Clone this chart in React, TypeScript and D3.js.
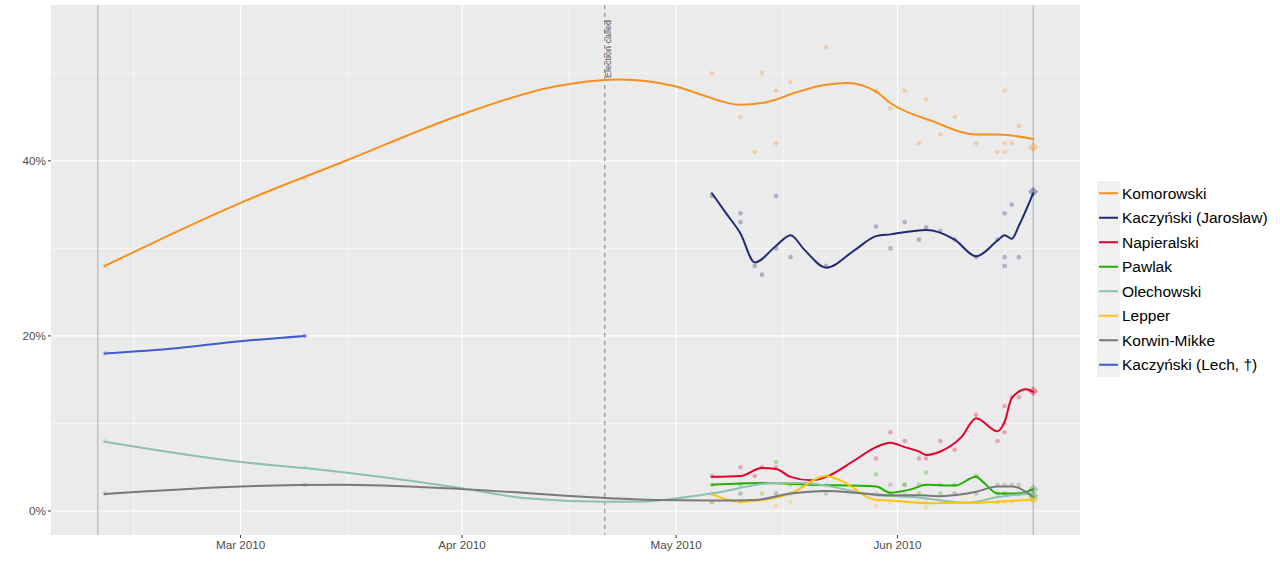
import { curveMonotoneX, line, scaleLinear, scaleTime, timeFormat, timeParse } from "d3";

const parse = timeParse("%Y-%m-%d");

type Obs = [string, number];

const candidates = [
  "Komorowski",
  "Kaczyński (Jarosław)",
  "Napieralski",
  "Pawlak",
  "Olechowski",
  "Lepper",
  "Korwin-Mikke",
  "Kaczyński (Lech, †)",
];

const colors = ["#f5901f", "#1f2c73", "#e3002b", "#22b000", "#8cc0b5", "#fec20f", "#7a7a7a", "#3c5ccf"];

// individual polls
const komorowskiPolls: Obs[] = [
  ["2010-02-10", 28], ["2010-03-10", 38], ["2010-05-06", 50], ["2010-05-10", 45], ["2010-05-12", 41],
  ["2010-05-13", 50], ["2010-05-15", 48], ["2010-05-15", 42], ["2010-05-17", 49], ["2010-05-22", 53],
  ["2010-05-29", 48], ["2010-05-31", 46], ["2010-06-02", 48], ["2010-06-04", 42], ["2010-06-05", 47],
  ["2010-06-07", 43], ["2010-06-09", 45], ["2010-06-12", 42], ["2010-06-15", 41], ["2010-06-16", 48],
  ["2010-06-16", 41], ["2010-06-16", 42], ["2010-06-17", 42], ["2010-06-18", 44],
];
const jaroslawPolls: Obs[] = [
  ["2010-05-06", 36], ["2010-05-10", 34], ["2010-05-10", 33], ["2010-05-12", 28], ["2010-05-13", 27],
  ["2010-05-15", 36], ["2010-05-15", 30], ["2010-05-17", 29], ["2010-05-22", 28], ["2010-05-29", 32.5],
  ["2010-05-31", 30], ["2010-06-02", 33], ["2010-06-04", 31], ["2010-06-05", 32.4], ["2010-06-07", 32],
  ["2010-06-09", 31], ["2010-06-12", 29], ["2010-06-15", 31], ["2010-06-16", 34], ["2010-06-16", 29],
  ["2010-06-16", 28], ["2010-06-17", 35], ["2010-06-18", 29],
];
const napieralskiPolls: Obs[] = [
  ["2010-05-06", 4], ["2010-05-10", 5], ["2010-05-12", 4], ["2010-05-13", 5], ["2010-05-15", 5],
  ["2010-05-29", 6], ["2010-05-31", 9], ["2010-06-02", 8], ["2010-06-04", 6], ["2010-06-05", 6],
  ["2010-06-07", 8], ["2010-06-09", 7], ["2010-06-12", 11], ["2010-06-15", 8], ["2010-06-16", 9],
  ["2010-06-16", 12], ["2010-06-16", 10], ["2010-06-17", 13], ["2010-06-18", 13],
];
const pawlakPolls: Obs[] = [
  ["2010-05-06", 3], ["2010-05-10", 3], ["2010-05-15", 5.6], ["2010-05-17", 3], ["2010-05-29", 4.2],
  ["2010-05-31", 2], ["2010-06-02", 3], ["2010-06-04", 2], ["2010-06-05", 4.4], ["2010-06-07", 2],
  ["2010-06-09", 3], ["2010-06-12", 4], ["2010-06-15", 2], ["2010-06-16", 2], ["2010-06-18", 2],
];
const olechowskiPolls: Obs[] = [
  ["2010-02-10", 8], ["2010-03-10", 5], ["2010-05-06", 2], ["2010-05-10", 2], ["2010-05-13", 2],
  ["2010-05-15", 2], ["2010-05-22", 3], ["2010-05-29", 2], ["2010-06-02", 2], ["2010-06-05", 1],
  ["2010-06-09", 2], ["2010-06-15", 1], ["2010-06-16", 2], ["2010-06-18", 2],
];
const lepperPolls: Obs[] = [
  ["2010-05-06", 1], ["2010-05-10", 1], ["2010-05-13", 2], ["2010-05-15", 0.6], ["2010-05-17", 1],
  ["2010-05-22", 4], ["2010-05-29", 0.6], ["2010-05-31", 1], ["2010-06-04", 1], ["2010-06-05", 0.4],
  ["2010-06-12", 1], ["2010-06-15", 1], ["2010-06-16", 1], ["2010-06-17", 1],
];
const korwinPolls: Obs[] = [
  ["2010-02-10", 2], ["2010-03-10", 3], ["2010-05-06", 1], ["2010-05-10", 2], ["2010-05-15", 2],
  ["2010-05-17", 2], ["2010-05-22", 2], ["2010-05-31", 3], ["2010-06-02", 3], ["2010-06-04", 3],
  ["2010-06-07", 3], ["2010-06-09", 2], ["2010-06-12", 2], ["2010-06-15", 3], ["2010-06-16", 3],
  ["2010-06-17", 3], ["2010-06-18", 3],
];
const lechPolls: Obs[] = [["2010-02-10", 18], ["2010-03-10", 20]];

// smoothed trend lines
const komorowskiTrend: Obs[] = [
  ["2010-02-10", 28], ["2010-03-01", 35.2], ["2010-03-16", 40.1],
  ["2010-04-01", 45.3], ["2010-04-14", 48.5], ["2010-04-23", 49.3], ["2010-05-01", 48.5],
  ["2010-05-04", 47.7], ["2010-05-10", 46.4], ["2010-05-13", 46.6], ["2010-05-15", 47], ["2010-05-17", 47.6],
  ["2010-05-22", 48.7], ["2010-05-25", 48.9], ["2010-05-29", 47.9], ["2010-05-31", 46.6], ["2010-06-06", 44.5],
  ["2010-06-12", 43], ["2010-06-15", 43], ["2010-06-20", 42.5],
];
const jaroslawTrend: Obs[] = [
  ["2010-05-06", 36.3], ["2010-05-08", 34], ["2010-05-10", 31.7], ["2010-05-12", 28.4], ["2010-05-15", 30.3],
  ["2010-05-17", 31.5], ["2010-05-19", 29.8], ["2010-05-22", 27.8], ["2010-05-26", 29.8], ["2010-05-29", 31.4],
  ["2010-05-31", 31.6], ["2010-06-05", 32.1], ["2010-06-09", 31], ["2010-06-12", 29.1], ["2010-06-15", 30.9],
  ["2010-06-16", 31.5], ["2010-06-17", 31.1], ["2010-06-18", 32.6], ["2010-06-20", 36.3],
];
const napieralskiTrend: Obs[] = [
  ["2010-05-06", 3.9], ["2010-05-10", 4.0], ["2010-05-13", 4.9], ["2010-05-15", 4.8], ["2010-05-17", 3.9],
  ["2010-05-20", 3.5], ["2010-05-22", 3.9], ["2010-05-26", 5.8], ["2010-05-29", 7.3], ["2010-05-31", 7.8],
  ["2010-06-02", 7.3], ["2010-06-04", 6.8], ["2010-06-05", 6.4], ["2010-06-07", 6.8], ["2010-06-10", 8.5],
  ["2010-06-12", 10.6], ["2010-06-15", 9.1], ["2010-06-16", 10.2], ["2010-06-17", 12.9], ["2010-06-19", 13.9],
  ["2010-06-20", 13.6],
];
const pawlakTrend: Obs[] = [
  ["2010-05-06", 3.0], ["2010-05-13", 3.2], ["2010-05-20", 3.0], ["2010-05-29", 2.8], ["2010-05-31", 2.1],
  ["2010-06-03", 2.5], ["2010-06-05", 3.0], ["2010-06-09", 2.9], ["2010-06-12", 3.9], ["2010-06-13", 3.3],
  ["2010-06-15", 2.0], ["2010-06-18", 2.0], ["2010-06-20", 2.5],
];
const olechowskiTrend: Obs[] = [
  ["2010-02-10", 7.9], ["2010-03-01", 5.6], ["2010-03-10", 4.9], ["2010-04-01", 2.6], ["2010-04-10", 1.45],
  ["2010-04-21", 1.06], ["2010-04-27", 1.1], ["2010-05-01", 1.45], ["2010-05-06", 2.0], ["2010-05-15", 3.2],
  ["2010-05-19", 3.2], ["2010-05-22", 2.9], ["2010-05-29", 1.8], ["2010-06-03", 1.6], ["2010-06-11", 0.95],
  ["2010-06-15", 1.6], ["2010-06-20", 2.0],
];
const lepperTrend: Obs[] = [
  ["2010-05-06", 1.9], ["2010-05-10", 1.06], ["2010-05-13", 1.26], ["2010-05-17", 2.0], ["2010-05-22", 4.0],
  ["2010-05-24", 3.5], ["2010-05-29", 1.26], ["2010-05-31", 1.2], ["2010-06-05", 0.9], ["2010-06-09", 0.95],
  ["2010-06-12", 0.95], ["2010-06-15", 1.06], ["2010-06-20", 1.3],
];
const korwinTrend: Obs[] = [
  ["2010-02-10", 1.94], ["2010-03-01", 2.8], ["2010-03-15", 3.0], ["2010-04-01", 2.5], ["2010-04-21", 1.5],
  ["2010-04-28", 1.26], ["2010-05-06", 1.2], ["2010-05-12", 1.26], ["2010-05-17", 2.0], ["2010-05-22", 2.3],
  ["2010-05-26", 2.1], ["2010-05-31", 1.8], ["2010-06-04", 1.8], ["2010-06-07", 1.7], ["2010-06-12", 2.2],
  ["2010-06-15", 2.8], ["2010-06-17", 2.8], ["2010-06-20", 1.6],
];
const lechTrend: Obs[] = [["2010-02-10", 18], ["2010-02-20", 18.6], ["2010-03-01", 19.4], ["2010-03-10", 20]];

const pollSeries = [komorowskiPolls, jaroslawPolls, napieralskiPolls, pawlakPolls, olechowskiPolls, lepperPolls, korwinPolls, lechPolls];
const trendSeries = [komorowskiTrend, jaroslawTrend, napieralskiTrend, pawlakTrend, olechowskiTrend, lepperTrend, korwinTrend, lechTrend];

const electionDay = "2010-06-20";
const electionResults = [41.54, 36.46, 13.68, 1.75, 1.44, 1.28, 2.48, null];

const rangeStart = "2010-02-09";
const electionCalled = "2010-04-21";

const xMajor = ["2010-03-01", "2010-04-01", "2010-05-01", "2010-06-01"];
const xMinor = ["2010-02-14", "2010-03-16", "2010-04-16", "2010-05-16", "2010-06-16"];
const yMajor = [0, 20, 40];
const yMinor = [10, 30, 50];

const W = 1280;
const H = 569;
const panel = { left: 51, right: 1080, top: 5, bottom: 535 };
const font = "'Liberation Sans', Arial, sans-serif";

export default function App() {
  const t0 = parse(rangeStart)!.getTime();
  const t1 = parse(electionDay)!.getTime();
  const pad = (t1 - t0) * 0.05;
  const x = scaleTime().domain([new Date(t0 - pad), new Date(t1 + pad)]).range([panel.left, panel.right]);
  const y = scaleLinear().domain([-2.74, 57.8]).range([panel.bottom, panel.top]);
  const fmt = timeFormat("%b %Y");

  const path = line<Obs>()
    .x((d) => x(parse(d[0])!))
    .y((d) => y(d[1]))
    .curve(curveMonotoneX);

  const calledX = x(parse(electionCalled)!);

  return (
    <svg width={W} height={H} style={{ position: "absolute", left: 0, top: 0, background: "#fff" }} fontFamily={font}>
      <rect x={panel.left} y={panel.top} width={panel.right - panel.left} height={panel.bottom - panel.top} fill="#ebebeb" />
      {yMinor.map((v) => (
        <line key={`ym${v}`} x1={panel.left} x2={panel.right} y1={y(v)} y2={y(v)} stroke="#fff" strokeWidth={0.55} />
      ))}
      {xMinor.map((d) => (
        <line key={`xm${d}`} x1={x(parse(d)!)} x2={x(parse(d)!)} y1={panel.top} y2={panel.bottom} stroke="#fff" strokeWidth={0.55} />
      ))}
      {yMajor.map((v) => (
        <line key={`y${v}`} x1={panel.left} x2={panel.right} y1={y(v)} y2={y(v)} stroke="#fff" strokeWidth={1.1} />
      ))}
      {xMajor.map((d) => (
        <line key={`x${d}`} x1={x(parse(d)!)} x2={x(parse(d)!)} y1={panel.top} y2={panel.bottom} stroke="#fff" strokeWidth={1.1} />
      ))}

      {[rangeStart, electionDay].map((d) => (
        <line key={`v${d}`} x1={x(parse(d)!)} x2={x(parse(d)!)} y1={panel.top} y2={panel.bottom} stroke="#b5b5b5" strokeWidth={1.2} />
      ))}
      <line x1={calledX} x2={calledX} y1={panel.top} y2={panel.bottom} stroke="#666" strokeWidth={0.8} strokeDasharray="4,4" />
      <text
        transform={`translate(${calledX + 6},20) rotate(-90)`}
        textAnchor="end"
        fontSize={9}
        fill="#555"
      >
        Election called
      </text>

      {pollSeries.map((polls, i) => (
        <g key={`p${i}`} fill={colors[i]} opacity={0.3}>
          {polls.map((d, j) => (
            <circle key={j} cx={x(parse(d[0])!)} cy={y(d[1])} r={2.3} />
          ))}
        </g>
      ))}
      {electionResults.map((v, i) =>
        v == null ? null : (
          <path
            key={`e${i}`}
            d="M0,-5L5,0L0,5L-5,0Z"
            transform={`translate(${x(parse(electionDay)!)},${y(v)})`}
            fill={colors[i]}
            opacity={0.4}
          />
        )
      )}

      {trendSeries.map((trend, i) => (
        <path key={`t${i}`} d={path(trend) ?? ""} fill="none" stroke={colors[i]} strokeWidth={2} strokeLinecap="round" />
      ))}

      {yMajor.map((v) => (
        <g key={`yl${v}`}>
          <line x1={panel.left - 3} x2={panel.left} y1={y(v)} y2={y(v)} stroke="#333" strokeWidth={1} />
          <text x={panel.left - 5} y={y(v)} dy="0.35em" textAnchor="end" fontSize={11.7} fill="#4d4d4d">
            {`${v}%`}
          </text>
        </g>
      ))}
      {xMajor.map((d) => (
        <g key={`xl${d}`}>
          <line x1={x(parse(d)!)} x2={x(parse(d)!)} y1={panel.bottom} y2={panel.bottom + 3} stroke="#333" strokeWidth={1} />
          <text x={x(parse(d)!)} y={panel.bottom + 14} textAnchor="middle" fontSize={11.7} fill="#4d4d4d">
            {fmt(parse(d)!)}
          </text>
        </g>
      ))}

      <g transform="translate(1097,181)">
        {candidates.map((c, i) => (
          <g key={c} transform={`translate(0,${i * 24.5})`}>
            <rect x={0} y={0} width={23} height={24.5} fill="#f0f0f0" />
            <line x1={2} x2={21} y1={12.25} y2={12.25} stroke={colors[i]} strokeWidth={2} />
            <text x={25} y={12.25} dy="0.36em" fontSize={15.5} fill="#000">
              {c}
            </text>
          </g>
        ))}
      </g>
    </svg>
  );
}
